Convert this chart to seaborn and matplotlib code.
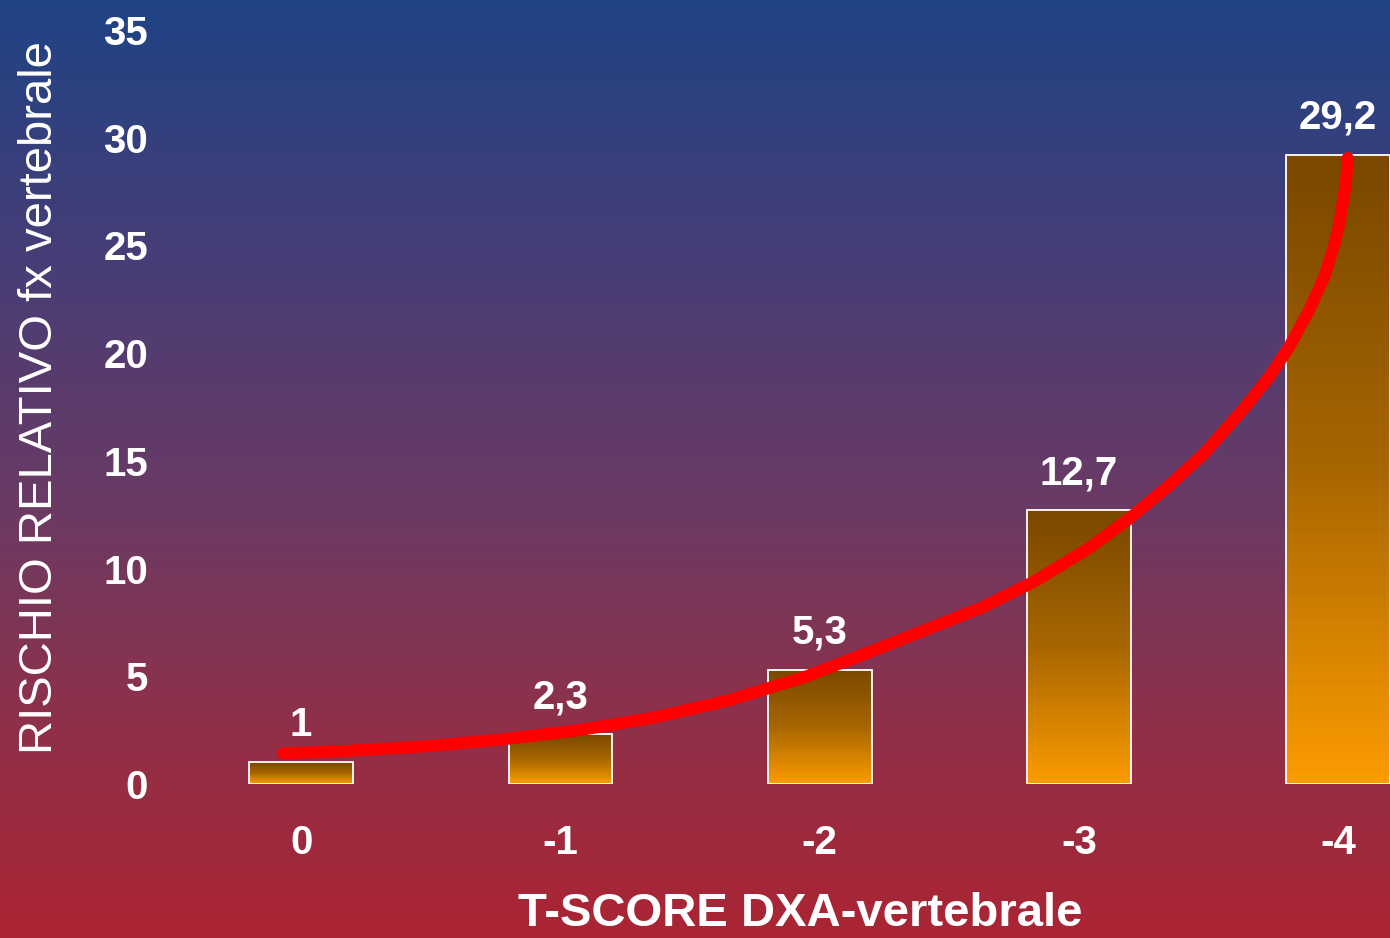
import numpy as np
import seaborn as sns
from matplotlib import pyplot as plt
from matplotlib.colors import LinearSegmentedColormap

sns.set_style("white")
plt.rcParams['font.family'] = ['Liberation Sans', 'DejaVu Sans']

# data
tscore = ["0", "-1", "-2", "-3", "-4"]
rischio = [1.0, 2.3, 5.3, 12.7, 29.2]
bar_labels = ["1", "2,3", "5,3", "12,7", "29,2"]
y_ticks = [0, 5, 10, 15, 20, 25, 30, 35]

# red trend curve (x in bar positions)
curve_x = [-0.069, 0.181, 0.476, 0.770, 1.064, 1.358, 1.653, 1.946, 2.181,
           2.377, 2.634, 2.827, 3.034, 3.188, 3.342, 3.484, 3.632, 3.735,
           3.812, 3.889, 3.947, 3.985, 4.005, 4.023, 4.031, 4.037]
curve_y = [1.42, 1.54, 1.74, 2.06, 2.48, 3.07, 3.89, 4.98, 6.07,
           7.00, 8.23, 9.39, 10.91, 12.26, 13.79, 15.35, 17.36, 18.91,
           20.30, 22.01, 23.55, 25.02, 26.03, 27.34, 28.04, 29.05]

bg_cmap = LinearSegmentedColormap.from_list(
    "bg", [(0.0, "#1f4385"), (0.3, "#4a3d75"), (0.55, "#6c3a63"),
           (0.78, "#903049"), (1.0, "#ab2433")])
bar_cmap = LinearSegmentedColormap.from_list("bar", ["#7a4800", "#a86600", "#fb9b00"])

fig = plt.figure(figsize=(13.9, 9.38), dpi=100)

# background gradient
bg = fig.add_axes([0, 0, 1, 1], zorder=0)
bg.imshow(np.linspace(0, 1, 256).reshape(-1, 1), aspect='auto', cmap=bg_cmap,
          extent=[0, 1, 0, 1])
bg.axis('off')

ax = fig.add_axes([0.1234, 0.1642, 0.8766, 0.804], zorder=1)
ax.patch.set_alpha(0)

sns.barplot(x=tscore, y=rischio, order=tscore, width=0.4, color="#fb9b00",
            edgecolor="white", linewidth=1.3, ax=ax)

# gradient fill inside each bar
grad = np.linspace(0, 1, 100).reshape(-1, 1)
for bar in ax.patches:
    x0, y0 = bar.get_xy()
    w, h = bar.get_width(), bar.get_height()
    im = ax.imshow(grad, extent=[x0, x0 + w, y0, y0 + h], aspect='auto',
                   cmap=bar_cmap, zorder=0.9)
    im.set_clip_path(bar)
    bar.set_facecolor('none')

ax.bar_label(ax.containers[0], labels=bar_labels, padding=13, color="white",
             fontsize=29, fontweight='bold')

sns.lineplot(x=curve_x, y=curve_y, color="#ff0000", linewidth=8.7,
             solid_capstyle='round', solid_joinstyle='round', ax=ax, zorder=3)

ax.set_xlim(-0.5, 4.2)
ax.set_ylim(0, 35)
ax.set_yticks(y_ticks)
ax.tick_params(axis='both', length=0, colors='white', labelsize=29)
ax.tick_params(axis='y', pad=17)
ax.tick_params(axis='x', pad=29)
for lab in ax.get_xticklabels() + ax.get_yticklabels():
    lab.set_fontweight('bold')
for s in ax.spines.values():
    s.set_visible(False)
ax.grid(False)

ax.set_ylabel("RISCHIO RELATIVO fx vertebrale", color='white', fontsize=34)
ax.yaxis.set_label_coords(-0.090, 0.513)
ax.set_xlabel("T-SCORE DXA-vertebrale", color='white', fontsize=34, fontweight='bold')
ax.xaxis.set_label_coords(0.516, -0.143)

fig.savefig("out.png", dpi=100)
